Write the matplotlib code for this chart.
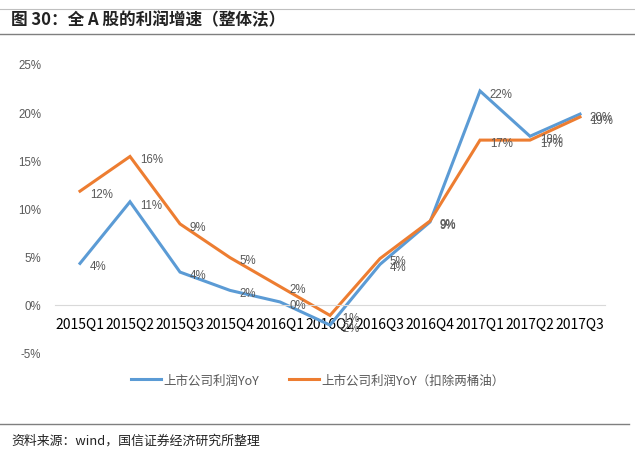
import matplotlib
matplotlib.use("Agg")
import matplotlib.pyplot as plt
from matplotlib.lines import Line2D

plt.rcParams['font.family'] = ['Noto Sans CJK SC', 'DejaVu Sans']

quarters = ["2015Q1", "2015Q2", "2015Q3", "2015Q4", "2016Q1", "2016Q2",
            "2016Q3", "2016Q4", "2017Q1", "2017Q2", "2017Q3"]
profit_yoy = [4.3, 10.7, 3.4, 1.5, 0.3, -2.1, 4.2, 8.6, 22.2, 17.5, 19.8]
profit_yoy_ex = [11.8, 15.4, 8.4, 4.9, 1.9, -1.1, 4.8, 8.7, 17.1, 17.1, 19.5]
labels_yoy = ["4%", "11%", "4%", "2%", "0%", "-2%", "4%", "9%", "22%", "18%", "20%"]
labels_ex = ["12%", "16%", "9%", "5%", "2%", "-1%", "5%", "9%", "17%", "17%", "19%"]
yticks = [-5, 0, 5, 10, 15, 20, 25]

blue = "#5B9BD5"
orange = "#ED7D31"
grey = "#595959"
numfont = ['Liberation Sans', 'DejaVu Sans']

fig = plt.figure(figsize=(6.35, 4.56), dpi=100)

# frame lines of the report figure
fig.add_artist(Line2D([0.0, 1.0], [1 - 10/456, 1 - 10/456], color="#bfbfbf", lw=0.8))
fig.add_artist(Line2D([0.0, 1.0], [1 - 35/456, 1 - 35/456], color="#7f7f7f", lw=1.0))
fig.add_artist(Line2D([0.0, 0.99], [1 - 425/456, 1 - 425/456], color="#7f7f7f", lw=1.0))
fig.text(0.018, 1 - 20/456, "图 30：全 A 股的利润增速（整体法）", fontsize=12,
         fontweight="bold", va="center", ha="left", color="#222222")
fig.text(0.018, 1 - 441/456, "资料来源：wind，国信证券经济研究所整理", fontsize=9.3,
         va="center", ha="left", color="#222222")

ax = fig.add_axes([55/635, 1 - 354/456, 550/635, 289/456])
x = list(range(len(quarters)))
ax.plot(x, profit_yoy, color=blue, lw=2.2, solid_joinstyle="miter")
ax.plot(x, profit_yoy_ex, color=orange, lw=2.2, solid_joinstyle="miter")

for xi, v, t in zip(x, profit_yoy, labels_yoy):
    ax.annotate(t, (xi, v), xytext=(7, -2), textcoords="offset points",
                fontsize=8.3, color=grey, ha="left", va="center", family=numfont)
for xi, v, t in zip(x, profit_yoy_ex, labels_ex):
    ax.annotate(t, (xi, v), xytext=(7, -2), textcoords="offset points",
                fontsize=8.3, color=grey, ha="left", va="center", family=numfont)

ax.set_xlim(-0.5, len(quarters) - 0.5)
ax.set_ylim(-5, 25)
ax.set_yticks(yticks)
ax.set_yticklabels([f"{v}%" for v in yticks], fontsize=8.3, color=grey, family=numfont)
ax.set_xticks(x)
ax.set_xticklabels(quarters, fontsize=8.3, color=grey, family=numfont)
for s in ["top", "right", "left"]:
    ax.spines[s].set_visible(False)
ax.spines["bottom"].set_position(("data", 0))
ax.spines["bottom"].set_color("#d9d9d9")
ax.tick_params(axis="both", length=0)
ax.tick_params(axis="x", pad=9)
ax.tick_params(axis="y", pad=10)

handles = [Line2D([], [], color=blue, lw=2.2), Line2D([], [], color=orange, lw=2.2)]
fig.legend(handles, ["上市公司利润YoY", "上市公司利润YoY（扣除两桶油）"],
           loc="center", bbox_to_anchor=(0.5, 1 - 381/456), ncol=2, frameon=False,
           fontsize=9, labelcolor=grey, handlelength=2.4, handletextpad=0.2,
           columnspacing=2.4)

fig.savefig("out.png", dpi=100, facecolor="white")
